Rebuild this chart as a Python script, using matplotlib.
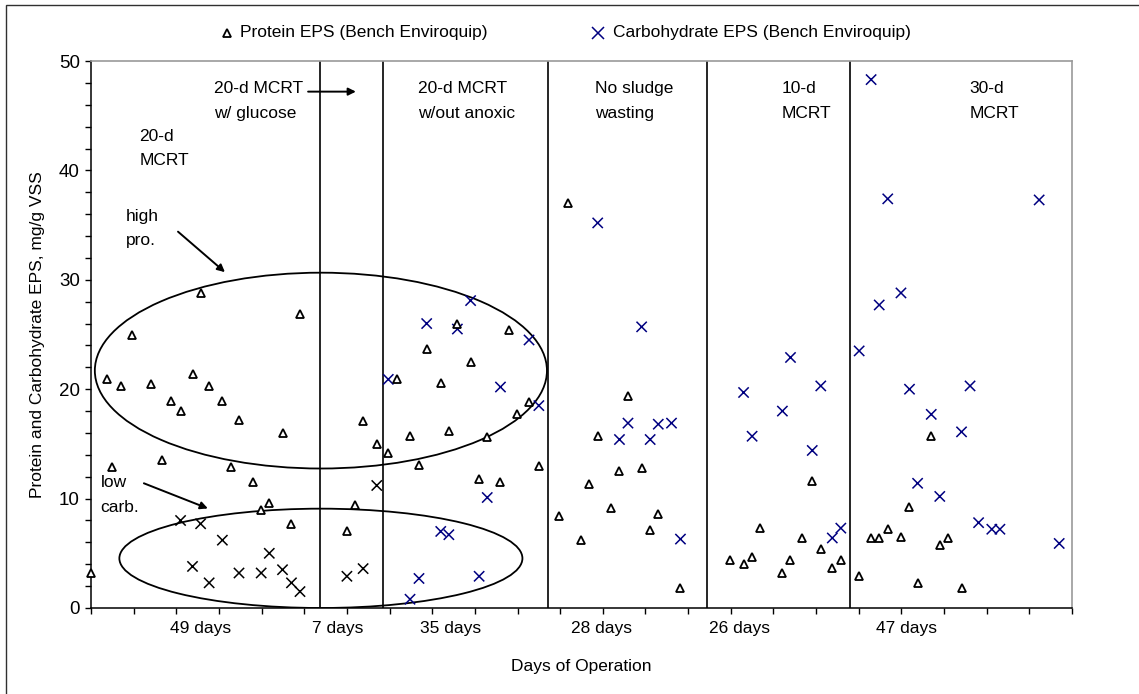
import numpy as np
import matplotlib.pyplot as plt
from matplotlib.patches import Ellipse, Rectangle
from matplotlib.lines import Line2D

plt.rcParams['font.family'] = ['Liberation Sans', 'DejaVu Sans']

# protein EPS (day, mg/g VSS)
prot_day = [0, 3.7, 5.0, 7.0, 9.7, 14.0, 16.7, 18.7, 21.0, 23.8, 25.7, 27.7, 30.8, 32.8, 34.7,
            37.9, 39.9, 41.8, 44.9, 47.0, 49.0, 60.0, 61.9, 63.8, 67.0, 69.7, 71.7, 74.8, 76.9,
            78.7, 82.0, 83.9, 85.9, 89.0, 91.0, 92.9, 96.0, 98.0, 99.9, 102.7, 105.0, 109.8,
            111.8, 114.9, 116.8, 118.8, 122.0, 123.9, 125.9, 129.1, 131.1, 133.0, 138.2, 149.8,
            153.0, 155.0, 156.9, 162.1, 164.0, 166.8, 169.1, 171.1, 173.8, 175.8, 180.1, 182.9,
            184.8, 186.8, 189.9, 191.9, 193.8, 197.0, 199.0, 200.9, 204.1]
prot_val = [3.2, 20.9, 12.9, 20.3, 25.0, 20.5, 13.5, 18.9, 18.0, 21.4, 28.8, 20.3, 18.9, 12.9, 17.2,
            11.5, 9.0, 9.6, 16.0, 7.7, 26.9, 7.0, 9.4, 17.1, 15.0, 14.2, 20.9, 15.7, 13.1,
            23.7, 20.6, 16.2, 26.0, 22.5, 11.8, 15.6, 11.5, 25.4, 17.7, 18.8, 13.0, 8.4,
            37.0, 6.2, 11.3, 15.7, 9.1, 12.5, 19.4, 12.8, 7.1, 8.6, 1.8, 4.4,
            4.0, 4.7, 7.3, 3.2, 4.4, 6.4, 11.6, 5.4, 3.7, 4.4, 2.9, 6.4,
            6.4, 7.2, 6.5, 9.2, 2.3, 15.7, 5.8, 6.4, 1.8]

# carbohydrate EPS (day, mg/g VSS)
carb_day = [21.0, 23.8, 25.7, 27.7, 30.8, 34.7, 39.9, 41.8, 44.9, 47.0, 49.0, 60.0, 63.8, 67.0,
            69.7, 74.8, 76.9, 78.7, 82.0, 83.9, 85.9, 89.0, 91.0, 92.9, 96.0, 102.7, 105.0,
            118.8, 123.9, 125.9, 129.1, 131.1, 133.0, 136.1, 138.2, 153.0, 155.0, 162.1, 164.0,
            169.1, 171.1, 173.8, 175.8, 180.1, 182.9, 184.8, 186.8, 189.9, 191.9, 193.8, 197.0,
            199.0, 204.1, 206.1, 208.1, 211.2, 213.1, 222.3, 227.0]
carb_val = [8.0, 3.8, 7.7, 2.3, 6.2, 3.2, 3.2, 5.0, 3.5, 2.3, 1.5, 2.9, 3.6, 11.2,
            20.9, 0.8, 2.7, 26.0, 7.0, 6.7, 25.5, 28.1, 2.9, 10.1, 20.2, 24.5, 18.5,
            35.2, 15.4, 16.9, 25.7, 15.4, 16.8, 16.9, 6.3, 19.7, 15.7, 18.0, 22.9,
            14.4, 20.3, 6.4, 7.3, 23.5, 48.3, 27.7, 37.4, 28.8, 20.0, 11.4, 17.7,
            10.2, 16.1, 20.3, 7.8, 7.2, 7.2, 37.3, 5.9]

# phase changes and labels
phase_lines = [53.7, 68.5, 107.2, 144.4, 178.0]
span_pos = [25.8, 57.9, 84.2, 119.8, 152.0, 191.3]
span_text = ['49 days', '7 days', '35 days', '28 days', '26 days', '47 days']
phase_pos = [11.3, 28.8, 76.7, 118.2, 162.0, 205.9]
phase_top = ['20-d', '20-d MCRT', '20-d MCRT', 'No sludge', '10-d', '30-d']
phase_bot = ['MCRT', 'w/ glucose', 'w/out anoxic', 'wasting', 'MCRT', 'MCRT']

fig = plt.figure(figsize=(11.39, 6.94), dpi=100)
ax = fig.add_axes([91/1139, 1 - 608/694, (1072 - 91)/1139, (608 - 61)/694])

fs = 12.5

carb_col = ['black' if d < phase_lines[1] else '#000080' for d in carb_day]
ax.scatter(carb_day, carb_val, marker='x', s=55, c=carb_col, linewidths=1.1, zorder=3)
ax.plot(prot_day, prot_val, ls='none', marker='^', ms=5.5, mfc='white', mec='black',
        mew=1.3, zorder=4, clip_on=False)

for x in phase_lines:
    ax.axvline(x, color='black', lw=1.2, zorder=2)

ax.add_patch(Ellipse((53.9, 21.7), 106, 17.9, fill=False, ec='black', lw=1.3))
ax.add_patch(Ellipse((53.9, 4.54), 94.5, 9.08, fill=False, ec='black', lw=1.3))

ax.set_xlim(0, 230)
ax.set_ylim(0, 50)
ax.set_xticks(np.arange(0, 231, 10))
ax.set_xticklabels([])
ax.set_yticks(np.arange(0, 51, 10))
ax.set_yticks(np.arange(0, 51, 2), minor=True)
ax.tick_params(axis='both', which='both', direction='out', length=4, width=1, color='black',
               labelsize=fs + 1, pad=4)
for s in ['top', 'right']:
    ax.spines[s].set_color('#9a9a9a')
    ax.spines[s].set_linewidth(1.2)
for s in ['left', 'bottom']:
    ax.spines[s].set_linewidth(1.1)

ax.set_ylabel('Protein and Carbohydrate EPS, mg/g VSS', fontsize=fs, labelpad=10)

trans = ax.get_xaxis_transform()
for x, t in zip(span_pos, span_text):
    ax.text(x, -0.038, t, transform=trans, ha='center', va='center', fontsize=fs)
fig.text(581/1139, 1 - 666/694, 'Days of Operation', ha='center', va='center', fontsize=fs)

for x, t1, t2 in zip(phase_pos, phase_top, phase_bot):
    y1, y2 = (47.5, 45.2)
    if t1 == '20-d' and x < 20:
        y1, y2 = (43.1, 40.9)
    ax.text(x, y1, t1, ha='left', va='center', fontsize=fs)
    ax.text(x, y2, t2, ha='left', va='center', fontsize=fs)

ax.text(8.1, 35.8, 'high', ha='left', va='center', fontsize=fs)
ax.text(8.1, 33.6, 'pro.', ha='left', va='center', fontsize=fs)
ax.text(2.2, 11.5, 'low', ha='left', va='center', fontsize=fs)
ax.text(2.2, 9.2, 'carb.', ha='left', va='center', fontsize=fs)

arw = dict(arrowstyle='-|>', color='black', lw=1.4, mutation_scale=11, shrinkA=0, shrinkB=0)
ax.annotate('', xy=(31.4, 30.7), xytext=(20.4, 34.4), arrowprops=arw)
ax.annotate('', xy=(27.4, 9.1), xytext=(12.4, 11.4), arrowprops=arw)
ax.annotate('', xy=(62.1, 47.2), xytext=(50.9, 47.2), arrowprops=arw)

# legend along the top
ly = 1 - 33/694
fig.add_artist(Line2D([227/1139], [ly], marker='^', ms=5.5, mfc='white', mec='black', mew=1.3,
                      ls='none', transform=fig.transFigure))
fig.text(240/1139, ly, 'Protein EPS (Bench Enviroquip)', ha='left', va='center', fontsize=fs)
fig.add_artist(Line2D([598/1139], [ly], marker='x', ms=8, color='#000080', mew=1.1,
                      ls='none', transform=fig.transFigure))
fig.text(613/1139, ly, 'Carbohydrate EPS (Bench Enviroquip)', ha='left', va='center', fontsize=fs)

# outer chart border
fig.add_artist(Rectangle((6/1139, -0.1), 1.2, 1 - 5/694 + 0.1, transform=fig.transFigure,
                         fill=False, ec='#303030', lw=1))

fig.savefig('out.png', dpi=100)
